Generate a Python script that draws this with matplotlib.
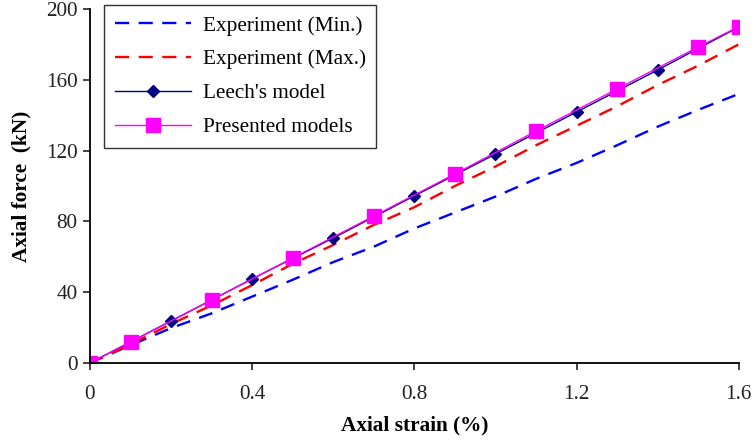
import matplotlib
matplotlib.use('Agg')
import matplotlib.pyplot as plt
import numpy as np

plt.rcParams['font.family'] = ['Liberation Serif', 'DejaVu Serif']

# Data
strain_exp = [0, 0.1, 0.2, 0.3, 0.4, 0.5, 0.6, 0.7, 0.8, 0.9, 1.0, 1.1, 1.2, 1.3, 1.4, 1.5, 1.6]
force_min = [0, 10, 19.7, 28, 37.5, 47, 57, 65.7, 76, 85, 94, 104, 113, 123, 133.5, 143, 152]
force_max = [0, 10.5, 22, 32.5, 44, 56, 66.7, 78, 88, 100, 111, 123, 134, 145, 157, 168, 180]

strain_leech = [0, 0.2, 0.4, 0.6, 0.8, 1.0, 1.2, 1.4, 1.6]
force_leech = [0, 23.7, 47.5, 70.6, 94.4, 118, 141.8, 165.5, 189.8]

strain_model = [0, 0.1, 0.3, 0.5, 0.7, 0.9, 1.1, 1.3, 1.5, 1.6]
force_model = [0, 11.9, 35.6, 59.3, 83, 106.8, 131, 154.8, 178.5, 190]

fs = 15.3

fig = plt.figure(figsize=(7.53, 4.41), dpi=100)
ax = fig.add_axes([0.1195, 0.177, 0.8615, 0.8026])

ax.plot(strain_exp, force_min, color='#0000ff', lw=1.7, dashes=(6, 4),
        label='Experiment (Min.)')
ax.plot(strain_exp, force_max, color='#ff0000', lw=1.7, dashes=(6, 4),
        label='Experiment (Max.)')
ax.plot(strain_leech, force_leech, color='#000080', lw=1.0, marker='D',
        markersize=6.5, label="Leech's model")
ax.plot(strain_model, force_model, color='#ff00ff', lw=1.0, marker='s',
        markersize=9.5, label='Presented models')

ax.set_xlim(0, 1.6)
ax.set_ylim(0, 200)
ax.set_xticks([0, 0.4, 0.8, 1.2, 1.6])
ax.set_xticklabels(['0', '0.4', '0.8', '1.2', '1.6'])
ax.set_yticks([0, 40, 80, 120, 160, 200])

ax.spines['top'].set_visible(False)
ax.spines['right'].set_visible(False)
for s in ['left', 'bottom']:
    ax.spines[s].set_linewidth(1.3)
ax.tick_params(direction='out', length=5, width=1.2, labelsize=fs, pad=4,
               colors='#222222')
ax.tick_params(axis='x', pad=11)
for lbl in ax.get_xticklabels() + ax.get_yticklabels():
    lbl.set_clip_on(False)

ax.set_xlabel('Axial strain (%)', fontsize=fs, fontweight='bold', labelpad=8)
ax.set_ylabel('Axial force  (kN)', fontsize=fs, fontweight='bold', labelpad=10)

leg = ax.legend(loc='upper left', bbox_to_anchor=(104 / 753, 1 - 5 / 441),
                bbox_transform=fig.transFigure, fontsize=fs, frameon=True,
                fancybox=False, handlelength=3.6, handletextpad=0.55,
                labelspacing=0.66, borderpad=0.5, borderaxespad=0)
leg.get_frame().set_edgecolor('black')
leg.get_frame().set_linewidth(1.0)

fig.savefig('out.png', dpi=100)
